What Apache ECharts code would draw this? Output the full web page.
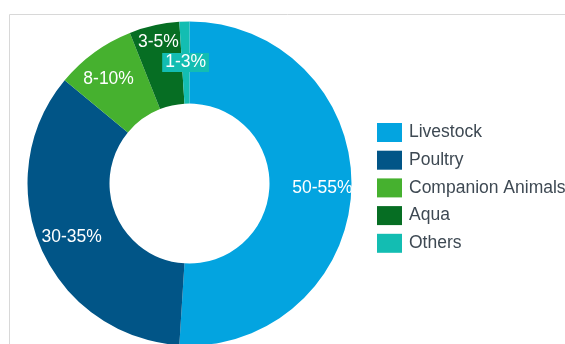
<!DOCTYPE html>
<html>
<head>
<meta charset="utf-8">
<script src="https://cdn.jsdelivr.net/npm/echarts@6/dist/echarts.min.js"></script>
<style>
  html, body { margin: 0; padding: 0; background: #ffffff; }
  #chart { width: 565px; height: 344px; }
</style>
</head>
<body>
<div id="chart"></div>
<script>
// Market share by segment
const categories = ['Livestock', 'Poultry', 'Companion Animals', 'Aqua', 'Others'];
const shareValues = [51, 35, 8, 5, 1];
const rangeLabels = ['50-55%', '30-35%', '8-10%', '3-5%', '1-3%'];
const segmentColors = ['#03a4e0', '#015587', '#46b12f', '#066e23', '#13bdb2'];

// small nudges of each slice label away from the ring's mid radius
const labelNudge = [[9, 1], [-4, 4], [-8, -4], [-4, -20], [0, 3]];

const chart = echarts.init(document.getElementById('chart'), null, { renderer: 'canvas' });

chart.setOption({
  animation: false,
  textStyle: { fontFamily: '"Liberation Sans", Arial, sans-serif' },
  graphic: [{
    type: 'rect',
    silent: true,
    shape: { x: 9.5, y: 14.5, width: 700, height: 500 },
    style: { fill: 'none', stroke: '#d8d8d8', lineWidth: 1 }
  }],
  legend: {
    orient: 'vertical',
    left: 377,
    top: 123,
    padding: 0,
    icon: 'rect',
    itemWidth: 25,
    itemHeight: 19,
    itemGap: 8.7,
    selectedMode: false,
    data: categories,
    textStyle: {
      fontSize: 17.5,
      color: '#3e4953',
      padding: [0, 0, 0, 2],
      fontFamily: '"Liberation Sans", Arial, sans-serif'
    }
  },
  series: [{
    type: 'pie',
    center: [189.5, 183.5],
    radius: [80, 162],
    startAngle: 90,
    clockwise: true,
    silent: true,
    avoidLabelOverlap: false,
    label: {
      show: true,
      position: 'inside',
      color: '#ffffff',
      fontSize: 17.5,
      fontFamily: '"Liberation Sans", Arial, sans-serif',
      formatter: p => rangeLabels[p.dataIndex]
    },
    labelLine: { show: false },
    labelLayout: p => ({ dx: labelNudge[p.dataIndex][0], dy: labelNudge[p.dataIndex][1] }),
    data: categories.map((name, i) => {
      const item = { name, value: shareValues[i], itemStyle: { color: segmentColors[i] } };
      if (i === 4) {
        item.label = { backgroundColor: segmentColors[i], padding: [1, 3], lineHeight: 17 };
      }
      return item;
    })
  }]
});
</script>
</body>
</html>
